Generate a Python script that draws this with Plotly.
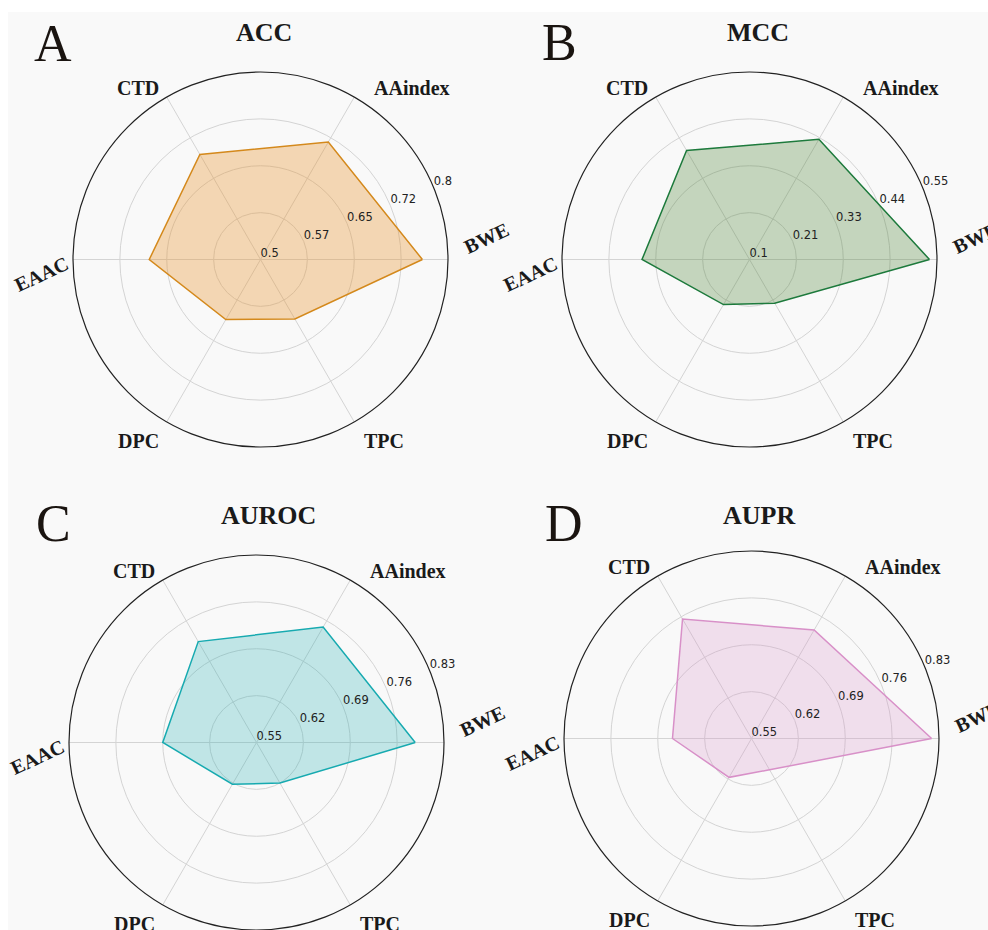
import numpy as np
import plotly.graph_objects as go

# ---------------- data ----------------
categories = ["BWE", "AAindex", "CTD", "EAAC", "DPC", "TPC"]
acc = [0.759, 0.717, 0.694, 0.678, 0.611, 0.610]
mcc = [0.532, 0.433, 0.402, 0.358, 0.225, 0.221]
auroc = [0.787, 0.749, 0.724, 0.690, 0.622, 0.620]
aupr = [0.819, 0.737, 0.756, 0.668, 0.617, 0.604]

titles = ["ACC", "MCC", "AUROC", "AUPR"]
letters = ["A", "B", "C", "D"]
acc_range = [0.5, 0.8]
mcc_range = [0.1, 0.55]
auroc_range = [0.55, 0.83]
aupr_range = [0.55, 0.83]
acc_ticks = ["0.5", "0.57", "0.65", "0.72", "0.8"]
mcc_ticks = ["0.1", "0.21", "0.33", "0.44", "0.55"]
auroc_ticks = ["0.55", "0.62", "0.69", "0.76", "0.83"]
aupr_ticks = ["0.55", "0.62", "0.69", "0.76", "0.83"]

# ---------------- styling ----------------
W, H = 988, 930
R = 187.5
centers = [(260.5, 259.5), (749.5, 259.5), (256.5, 742.5), (751.5, 738.5)]
title_pos = [(263.5, 32), (757.5, 32), (268.5, 515), (759.0, 515)]
letter_pos = [(53, 43), (559, 42), (53.5, 523.5), (564, 523.5)]
line_colors = ["#d4891c", "#1d7a3c", "#17aab0", "#d890c8"]
fill_colors = ["rgba(231,150,50,0.35)", "rgba(74,130,50,0.30)",
               "rgba(23,170,176,0.25)", "rgba(216,143,200,0.25)"]
# label offsets (px) from circle centre, and text angle
label_offsets = {"BWE": (226, -22, -25), "AAindex": (151, -172, 0), "CTD": (-123, -172, 0),
                 "EAAC": (-219, 14, -25), "DPC": (-122, 181, 0), "TPC": (123, 181, 0)}
RLABEL_ANGLE = 22.5

series = [acc, mcc, auroc, aupr]
ranges = [acc_range, mcc_range, auroc_range, aupr_range]
ticks = [acc_ticks, mcc_ticks, auroc_ticks, aupr_ticks]

BG = "#f9f9f9"
SERIF = "Liberation Serif"
angles = list(np.arange(len(categories)) * 360.0 / len(categories))

fig = go.Figure()
annotations = []
layout_polars = {}
for i in range(4):
    name = "polar" if i == 0 else f"polar{i+1}"
    vals = series[i]
    lo, hi = ranges[i]
    tickvals = list(np.linspace(lo, hi, 5))
    fig.add_trace(go.Scatterpolar(
        r=vals + [vals[0]], theta=angles + [angles[0]],
        mode="lines", fill="toself", fillcolor=fill_colors[i],
        line=dict(color=line_colors[i], width=1.5),
        customdata=categories + [categories[0]],
        hovertemplate="%{customdata}: %{r}<extra></extra>",
        subplot=name, showlegend=False))
    # radial tick labels placed at 22.5 degrees (matplotlib style)
    fig.add_trace(go.Scatterpolar(
        r=tickvals, theta=[RLABEL_ANGLE] * len(tickvals), mode="text",
        text=ticks[i], textposition="top right",
        textfont=dict(family="DejaVu Sans", size=11.5, color="#222222"),
        subplot=name, showlegend=False, hoverinfo="skip"))
    cx, cy = centers[i]
    layout_polars[name] = dict(
        domain=dict(x=[(cx - R) / W, (cx + R) / W], y=[1 - (cy + R) / H, 1 - (cy - R) / H]),
        bgcolor=BG,
        angularaxis=dict(tickmode="array", tickvals=angles, ticktext=categories, rotation=0,
                         direction="counterclockwise", thetaunit="degrees",
                         showticklabels=False, ticks="",
                         showline=True, linecolor="#222222", linewidth=1.2,
                         gridcolor="#d4d4d4", gridwidth=1),
        radialaxis=dict(range=[lo, hi], tickvals=tickvals, showticklabels=False,
                        showline=False, ticks="",
                        gridcolor="#d4d4d4", gridwidth=1),
    )
    for cat in categories:
        dx, dy, ang = label_offsets[cat]
        annotations.append(dict(x=(cx + dx) / W, y=1 - (cy + dy) / H, xref="paper", yref="paper",
                                text=f"<b>{cat}</b>", showarrow=False, textangle=ang,
                                xanchor="center", yanchor="middle",
                                font=dict(family=SERIF, size=20, color="#1a1a1a")))
    tx, ty = title_pos[i]
    annotations.append(dict(x=tx / W, y=1 - ty / H, xref="paper", yref="paper",
                            text=f"<b>{titles[i]}</b>", showarrow=False,
                            xanchor="center", yanchor="middle",
                            font=dict(family=SERIF, size=26, color="#1a1a1a")))
    lx, ly = letter_pos[i]
    annotations.append(dict(x=lx / W, y=1 - ly / H, xref="paper", yref="paper",
                            text=letters[i], showarrow=False,
                            xanchor="center", yanchor="middle",
                            font=dict(family=SERIF, size=52, color="#1a1410")))

fig.update_layout(
    width=W, height=H, margin=dict(l=0, r=0, t=0, b=0),
    paper_bgcolor=BG, plot_bgcolor=BG,
    annotations=annotations,
    shapes=[dict(type="rect", xref="paper", yref="paper", x0=0, x1=1, y0=1 - 12 / H, y1=1,
                 fillcolor="white", line=dict(width=0), layer="below"),
            dict(type="rect", xref="paper", yref="paper", x0=0, x1=8 / W, y0=0, y1=1,
                 fillcolor="white", line=dict(width=0), layer="below")],
    **layout_polars,
)
fig.write_html("out.html")
